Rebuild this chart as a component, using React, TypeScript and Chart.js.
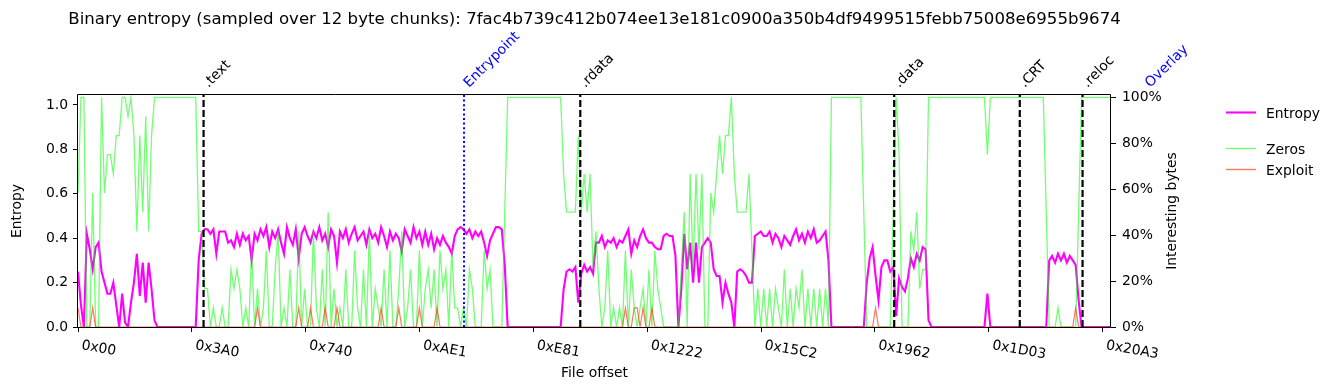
import React, { useEffect, useRef } from "react";
import { Chart, registerables } from "chart.js";

Chart.register(...registerables);

const TITLE =
  "Binary entropy (sampled over 12 byte chunks): 7fac4b739c412b074ee13e181c0900a350b4df9499515febb75008e6955b9674";

// each point covers two 12-byte chunks
const CHUNK_SIZE = 12;
const BYTES_PER_POINT = 24;
const FILE_END = 8424;

// entropy (normalised, x100)
const entropyPct: number[] = [
  25, 10, 0, 42, 35, 26, 36, 38, 25, 20,
  15, 15, 20, 10, 0, 15, 2, 0, 11, 20,
  33, 14, 29, 11, 29, 17, 3, 0, 0, 0,
  0, 0, 0, 0, 0, 0, 0, 0, 0, 0,
  0, 30, 42, 44, 44, 42, 44, 33, 43, 43,
  43, 38, 39, 36, 42, 37, 42, 39, 41, 30,
  42, 39, 44, 41, 45, 36, 43, 40, 44, 38,
  33, 45, 40, 37, 44, 31, 42, 45, 41, 38,
  43, 40, 45, 39, 42, 36, 44, 41, 29, 43,
  40, 44, 38, 42, 45, 39, 41, 43, 37, 44,
  40, 42, 38, 45, 41, 36, 43, 39, 42, 40,
  34, 44, 41, 38, 45, 40, 43, 37, 43, 37,
  42, 35, 40, 37, 41, 38, 36, 33, 41, 44,
  45, 44, 42, 44, 40, 43, 41, 43, 38, 32,
  39, 42, 45, 45, 44, 28, 0, 0, 0, 0,
  0, 0, 0, 0, 0, 0, 0, 0, 0, 0,
  0, 0, 0, 0, 0, 17, 25, 26, 25, 27,
  11, 24, 28, 25, 27, 24, 38, 38, 41, 36,
  39, 38, 40, 36, 39, 38, 41, 44, 33, 39,
  36, 41, 44, 40, 38, 38, 36, 35, 35, 41,
  42, 41, 41, 32, 0, 17, 42, 26, 38, 20,
  38, 20, 36, 38, 40, 38, 26, 23, 23, 11,
  20, 15, 11, 0, 25, 26, 25, 23, 20, 20,
  41, 42, 43, 41, 41, 43, 38, 42, 40, 36,
  41, 39, 37, 41, 44, 39, 42, 38, 43, 40,
  44, 38, 39, 41, 43, 30, 0, 0, 0, 0,
  0, 0, 0, 0, 0, 0, 0, 0, 20, 31,
  36, 23, 12, 27, 30, 30, 25, 27, 5, 22,
  18, 16, 22, 31, 27, 33, 30, 36, 35, 3,
  0, 0, 0, 0, 0, 0, 0, 0, 0, 0,
  0, 0, 0, 0, 0, 0, 0, 0, 0, 15,
  0, 0, 0, 0, 0, 0, 0, 0, 0, 0,
  0, 0, 0, 0, 0, 0, 0, 0, 0, 0,
  30, 32, 29, 33, 30, 33, 29, 32, 30, 28,
  12, 0, 0, 0, 0, 0, 0, 0, 0, 0,
  0, 0,
];

// zero bytes per 12-byte chunk
const zeroCounts: number[] = [
  7, 12, 12, 0, 0, 7, 0, 0, 12, 7,
  9, 9, 8, 10, 10, 12, 12, 11, 12, 10,
  5, 10, 6, 11, 5, 10, 12, 12, 12, 12,
  12, 12, 12, 12, 12, 12, 12, 12, 12, 12,
  12, 5, 5, 2, 2, 0, 1, 0, 0, 1,
  0, 0, 3, 2, 3, 2, 0, 1, 0, 4,
  0, 2, 0, 1, 4, 0, 0, 3, 5, 0,
  1, 0, 3, 0, 0, 5, 0, 2, 0, 0,
  5, 1, 0, 3, 0, 6, 0, 2, 0, 1,
  0, 3, 0, 0, 4, 1, 0, 3, 0, 5,
  0, 2, 1, 0, 3, 0, 4, 0, 0, 2,
  5, 0, 1, 3, 0, 0, 4, 0, 2, 3,
  1, 3, 0, 4, 2, 3, 0, 4, 1, 1,
  0, 1, 0, 3, 2, 0, 0, 0, 4, 2,
  3, 0, 0, 0, 0, 6, 12, 12, 12, 12,
  12, 12, 12, 12, 12, 12, 12, 12, 12, 12,
  12, 12, 12, 12, 12, 8, 6, 6, 6, 6,
  10, 6, 8, 6, 8, 3, 5, 2, 0, 1,
  4, 0, 1, 0, 1, 0, 4, 0, 3, 1,
  0, 1, 2, 0, 3, 0, 4, 2, 1, 0,
  0, 0, 0, 0, 0, 3, 6, 0, 8, 3,
  8, 4, 8, 0, 0, 7, 6, 8, 10, 8,
  10, 10, 12, 8, 6, 6, 6, 6, 8, 4,
  0, 2, 0, 2, 0, 2, 0, 2, 1, 0,
  3, 0, 2, 0, 2, 1, 3, 0, 2, 0,
  2, 0, 2, 0, 2, 0, 12, 12, 12, 12,
  12, 12, 12, 12, 12, 12, 12, 6, 0, 0,
  0, 0, 0, 0, 0, 0, 0, 6, 12, 9,
  0, 0, 0, 5, 4, 6, 2, 3, 3, 12,
  12, 12, 12, 12, 12, 12, 12, 12, 12, 12,
  12, 12, 12, 12, 12, 12, 12, 12, 12, 9,
  12, 12, 12, 12, 12, 12, 12, 12, 12, 12,
  12, 12, 12, 12, 12, 12, 12, 12, 12, 6,
  0, 0, 0, 1, 0, 0, 0, 0, 0, 0,
  6, 12, 12, 12, 12, 12, 12, 12, 12, 12,
  12, 12,
];

// exploit-pattern bytes per 12-byte chunk
const exploitCounts: number[] = [
  1, 0, 0, 0, 0, 1, 0, 0, 0, 0, 0, 0, 0, 0, 0, 0, 0, 0, 0, 0,
  0, 0, 0, 0, 0, 0, 0, 0, 0, 0, 0, 0, 0, 0, 0, 0, 0, 0, 0, 0,
  0, 0, 0, 0, 0, 0, 0, 0, 0, 0, 0, 0, 0, 0, 0, 0, 0, 0, 0, 0,
  0, 1, 0, 0, 0, 0, 0, 0, 0, 0, 0, 0, 0, 0, 0, 1, 0, 0, 0, 1,
  0, 0, 0, 0, 1, 0, 0, 0, 1, 0, 0, 0, 0, 0, 0, 0, 0, 0, 0, 0,
  0, 0, 0, 1, 0, 0, 0, 0, 0, 1, 0, 0, 0, 0, 0, 0, 1, 0, 0, 0,
  0, 0, 1, 0, 0, 0, 0, 0, 0, 0, 0, 0, 0, 0, 0, 0, 0, 0, 0, 0,
  0, 0, 0, 0, 0, 0, 0, 0, 0, 0, 0, 0, 0, 0, 0, 0, 0, 0, 0, 0,
  0, 0, 0, 0, 0, 0, 0, 0, 0, 0, 0, 0, 0, 0, 0, 0, 0, 0, 0, 0,
  0, 0, 0, 0, 0, 0, 1, 0, 0, 1, 1, 0, 1, 0, 0, 1, 0, 0, 0, 0,
  0, 0, 0, 0, 0, 0, 0, 0, 0, 0, 0, 0, 0, 0, 0, 0, 0, 0, 0, 0,
  0, 0, 0, 0, 0, 0, 0, 0, 0, 0, 0, 0, 0, 0, 0, 0, 0, 0, 0, 0,
  0, 0, 0, 0, 0, 0, 0, 0, 0, 0, 0, 0, 0, 0, 0, 0, 0, 0, 0, 0,
  0, 0, 0, 0, 0, 0, 0, 0, 0, 0, 0, 1, 0, 0, 0, 0, 0, 0, 0, 0,
  0, 0, 0, 0, 0, 0, 0, 0, 0, 0, 0, 0, 0, 0, 0, 0, 0, 0, 0, 0,
  0, 0, 0, 0, 0, 0, 0, 0, 0, 0, 0, 0, 0, 0, 0, 0, 0, 0, 0, 0,
  0, 0, 0, 0, 0, 0, 0, 0, 0, 0, 0, 0, 0, 0, 0, 0, 0, 0, 0, 1,
  0, 0, 0, 0, 0, 0, 0, 0, 0, 0, 0, 0,
];

const xTickOffsets = [0, 928, 1856, 2785, 3713, 4642, 5570, 6498, 7427, 8355];
const xTickLabels = ["0x00", "0x3A0", "0x740", "0xAE1", "0xE81", "0x1222", "0x15C2", "0x1962", "0x1D03", "0x20A3"];
const yTicks = [0, 0.2, 0.4, 0.6, 0.8, 1.0];
const yTickLabels = ["0.0", "0.2", "0.4", "0.6", "0.8", "1.0"];
const pctTicks = [0, 0.2, 0.4, 0.6, 0.8, 1.0];
const pctTickLabels = ["0%", "20%", "40%", "60%", "80%", "100%"];

const sectionNames = [".text", "Entrypoint", ".rdata", ".data", ".CRT", ".reloc", "Overlay"];
const sectionOffsets = [1024, 3148, 4096, 6656, 7680, 8192, 8704];
const sectionKinds = ["section", "entry", "section", "section", "section", "section", "entry"];

const FAMILY = "'DejaVu Sans', sans-serif";
const FS = 13.9;
const ENTROPY_COLOR = "#ff00ff";
const ZEROS_COLOR = "rgba(0, 255, 0, 0.55)";
const EXPLOIT_COLOR = "rgba(255, 60, 30, 0.7)";

const overlayPlugin = {
  id: "overlayPlugin",
  afterDatasetsDraw(chart: any) {
    const { ctx, chartArea: a, scales } = chart;
    const xs = scales.x;
    ctx.save();
    ctx.beginPath();
    ctx.rect(a.left, a.top, a.right - a.left, a.bottom - a.top);
    ctx.clip();
    sectionOffsets.forEach((off, i) => {
      const px = xs.getPixelForValue(off);
      const entry = sectionKinds[i] === "entry";
      ctx.strokeStyle = entry ? "#0000ff" : "#000000";
      ctx.lineWidth = entry ? 2 : 2.2;
      ctx.setLineDash(entry ? [2, 2.6] : [7, 3]);
      ctx.beginPath();
      ctx.moveTo(px, a.bottom);
      ctx.lineTo(px, a.top);
      ctx.stroke();
    });
    ctx.restore();

    // frame
    ctx.save();
    ctx.strokeStyle = "#000";
    ctx.lineWidth = 1;
    ctx.setLineDash([]);
    ctx.beginPath();
    ctx.rect(a.left - 0.5, a.top - 0.5, a.right - a.left + 0, a.bottom - a.top + 1);
    ctx.stroke();
    ctx.restore();
  },
  afterDraw(chart: any) {
    const { ctx, chartArea: a, scales } = chart;
    const xs = scales.x;
    ctx.save();
    ctx.fillStyle = "#000";
    ctx.font = `${FS}px ${FAMILY}`;

    // section labels
    sectionOffsets.forEach((off, i) => {
      const px = xs.getPixelForValue(off);
      ctx.save();
      ctx.translate(px + 5, a.top - 7);
      ctx.rotate(-Math.PI / 4);
      ctx.fillStyle = sectionKinds[i] === "entry" ? "#0000ff" : "#000";
      ctx.textAlign = "left";
      ctx.textBaseline = "alphabetic";
      ctx.fillText(sectionNames[i], 0, 0);
      ctx.restore();
    });

    // x tick labels
    xTickOffsets.forEach((v, i) => {
      const px = xs.getPixelForValue(v);
      ctx.save();
      ctx.translate(px + 3, a.bottom + 22);
      ctx.rotate((10 * Math.PI) / 180);
      ctx.textAlign = "left";
      ctx.textBaseline = "alphabetic";
      ctx.fillText(xTickLabels[i], 0, 0);
      ctx.restore();
    });

    // title
    ctx.textAlign = "center";
    ctx.textBaseline = "alphabetic";
    ctx.font = `16.6px ${FAMILY}`;
    ctx.fillText(TITLE, (a.left + a.right) / 2, 24);

    // axis titles
    ctx.font = `${FS}px ${FAMILY}`;
    ctx.fillText("File offset", (a.left + a.right) / 2, 377);
    const midY = (a.top + a.bottom) / 2;
    ctx.save();
    ctx.translate(21, midY);
    ctx.rotate(-Math.PI / 2);
    ctx.fillText("Entropy", 0, 0);
    ctx.restore();
    ctx.save();
    ctx.translate(1176, midY);
    ctx.rotate(-Math.PI / 2);
    ctx.fillText("Interesting bytes", 0, 0);
    ctx.restore();

    // legends
    const items = [
      { label: "Entropy", color: ENTROPY_COLOR, width: 2.1, y: 112.5 },
      { label: "Zeros", color: ZEROS_COLOR, width: 1.4, y: 148.5 },
      { label: "Exploit", color: EXPLOIT_COLOR, width: 1.4, y: 169.5 },
    ];
    items.forEach((it) => {
      ctx.strokeStyle = it.color;
      ctx.lineWidth = it.width;
      ctx.beginPath();
      ctx.moveTo(1226, it.y);
      ctx.lineTo(1256, it.y);
      ctx.stroke();
      ctx.fillStyle = "#000";
      ctx.textAlign = "left";
      ctx.textBaseline = "alphabetic";
      ctx.fillText(it.label, 1266, it.y + 5);
    });
    ctx.restore();
  },
};

export default function App() {
  const ref = useRef<HTMLCanvasElement | null>(null);
  useEffect(() => {
    if (!ref.current) return;
    Chart.defaults.font.family = FAMILY;
    const gridOpts = {
      display: true,
      drawOnChartArea: false,
      drawTicks: true,
      tickLength: 5,
      color: "#000",
      tickColor: "#000",
      lineWidth: 1,
    };
    const chart = new Chart(ref.current, {
      type: "line",
      data: {
        datasets: [
          {
            label: "Exploit",
            data: exploitCounts.map((c, i) => ({ x: i * BYTES_PER_POINT, y: c / CHUNK_SIZE })),
            yAxisID: "y1",
            borderColor: EXPLOIT_COLOR,
            borderWidth: 1.2,
            pointRadius: 0,
            order: 0,
          },
          {
            label: "Zeros",
            data: zeroCounts.map((c, i) => ({ x: i * BYTES_PER_POINT, y: c / CHUNK_SIZE })),
            yAxisID: "y1",
            borderColor: ZEROS_COLOR,
            borderWidth: 1.3,
            pointRadius: 0,
            order: 1,
          },
          {
            label: "Entropy",
            data: entropyPct.map((v, i) => ({ x: i * BYTES_PER_POINT, y: v / 100 })),
            yAxisID: "y",
            borderColor: ENTROPY_COLOR,
            borderWidth: 2.1,
            pointRadius: 0,
            order: 2,
          },
        ],
      },
      options: {
        responsive: false,
        animation: false,
        devicePixelRatio: 1,
        layout: { padding: { top: 95, left: 0, right: 0, bottom: 0 } },
        plugins: {
          legend: { display: false },
          title: { display: false },
          tooltip: { enabled: false },
        },
        elements: { line: { tension: 0 }, point: { radius: 0 } },
        scales: {
          x: {
            type: "linear",
            position: "bottom",
            min: 0,
            max: FILE_END,
            afterBuildTicks: (s: any) => {
              s.ticks = xTickOffsets.map((v) => ({ value: v }));
            },
            afterFit: (s: any) => {
              s.height = 63;
            },
            ticks: { display: false },
            grid: gridOpts,
            border: { display: false },
          },
          y: {
            type: "linear",
            position: "left",
            min: 0,
            max: 1.045,
            afterBuildTicks: (s: any) => {
              s.ticks = yTicks.map((v) => ({ value: v }));
            },
            afterFit: (s: any) => {
              s.width = 78;
            },
            ticks: {
              callback: (_v: any, i: number) => yTickLabels[i],
              color: "#000",
              font: { family: FAMILY, size: FS },
              padding: 5,
            },
            grid: gridOpts,
            border: { display: false },
          },
          y1: {
            type: "linear",
            position: "right",
            min: 0,
            max: 1.01,
            afterBuildTicks: (s: any) => {
              s.ticks = pctTicks.map((v) => ({ value: v }));
            },
            afterFit: (s: any) => {
              s.width = 224;
            },
            ticks: {
              callback: (_v: any, i: number) => pctTickLabels[i],
              color: "#000",
              font: { family: FAMILY, size: FS },
              padding: 6,
            },
            grid: gridOpts,
            border: { display: false },
          },
        },
      },
      plugins: [overlayPlugin],
    } as any);
    return () => chart.destroy();
  }, []);

  return (
    <div style={{ position: "absolute", left: 0, top: 0, width: 1335, height: 390, background: "#fff" }}>
      <canvas ref={ref} width={1335} height={390} style={{ display: "block" }} />
    </div>
  );
}
